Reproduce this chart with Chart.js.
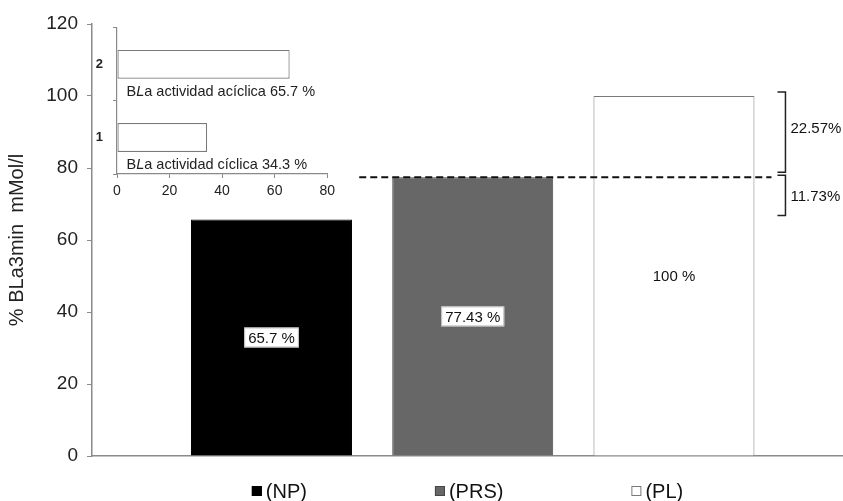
<!DOCTYPE html>
<html>
<head>
<meta charset="utf-8">
<script src="https://cdn.jsdelivr.net/npm/chart.js@4.4.1/dist/chart.umd.min.js"></script>
<style>
  html, body { margin: 0; padding: 0; background: #ffffff; overflow: hidden; }
  #wrap { position: relative; width: 843px; height: 501px; }
  #main { position: absolute; left: 0; top: 0; }
  #inset { position: absolute; left: 90px; top: 10px; }
</style>
</head>
<body>
<div id="wrap">
  <canvas id="main" width="843" height="501"></canvas>
  <canvas id="inset" width="250" height="200"></canvas>
</div>
<script>
// ---------- data ----------
const categories = ['(NP)', '(PRS)', '(PL)'];
const values = [65.7, 77.43, 100];
const xPositions = [1, 2, 3];
const yTickStep = 20;
const yMin = 0;
const yMax = 120;
const yTitle = '% BLa3min  mMol/l';

const insetCategories = ['1', '2'];
const insetValues = [34.3, 65.7];
const insetNames = ['BLa actividad cíclica', 'BLa actividad acíclica'];
const insetXMin = 0;
const insetXMax = 80;
const insetXStep = 20;

// ---------- styles ----------
const FONT = '"Liberation Sans", Arial, Helvetica, sans-serif';
Chart.defaults.font.family = FONT;
Chart.defaults.color = '#222';
const barFill = ['#000000', '#676767', '#ffffff'];
const barEdge = ['#000000', '#474747', '#7a7a7a'];
const axisColor = '#8a8a8a';

// ---------- main chart plugin: labels, dashed reference, brackets, legend ----------
const mainDecor = {
  id: 'mainDecor',
  afterDatasetsDraw(chart) {
    const ctx = chart.ctx;
    const meta = chart.getDatasetMeta(0);
    const ys = chart.scales.y;
    ctx.save();
    // value labels in boxes
    ctx.font = '15px ' + FONT;
    ctx.textAlign = 'center';
    ctx.textBaseline = 'middle';
    meta.data.forEach((bar, i) => {
      const cy = (bar.y + bar.base) / 2;
      const text = values[i] + ' %';
      const w = ctx.measureText(text).width + 8;
      const h = 20;
      ctx.fillStyle = '#ffffff';
      ctx.fillRect(bar.x - w / 2, cy - h / 2, w, h);
      if (i < 2) {
        ctx.lineWidth = 1;
        ctx.strokeStyle = '#bdbdbd';
        ctx.strokeRect(bar.x - w / 2 + 0.5, cy - h / 2 + 0.5, w - 1, h - 1);
      }
      ctx.fillStyle = '#111';
      ctx.fillText(text, bar.x, cy + 1);
    });
    // dashed reference line at PRS level
    const prs = meta.data[1];
    const pl = meta.data[2];
    const yRef = ys.getPixelForValue(values[1]);
    ctx.setLineDash([7, 4]);
    ctx.lineWidth = 2;
    ctx.strokeStyle = '#111';
    ctx.beginPath();
    ctx.moveTo(prs.x - prs.width / 2 - 33, yRef);
    ctx.lineTo(pl.x + pl.width / 2 + 17, yRef);
    ctx.stroke();
    ctx.setLineDash([]);
    // brackets
    const bx = pl.x + pl.width / 2 + 31;
    const drawBracket = (y1, y2) => {
      ctx.beginPath();
      ctx.moveTo(bx - 8, y1);
      ctx.lineTo(bx, y1);
      ctx.lineTo(bx, y2);
      ctx.lineTo(bx - 8, y2);
      ctx.lineWidth = 1.5;
      ctx.strokeStyle = '#222';
      ctx.stroke();
    };
    const yTop = ys.getPixelForValue(values[2]) - 4;
    const yMid = ys.getPixelForValue(values[1]);
    const yLow = ys.getPixelForValue(values[0]) - 4;
    drawBracket(yTop, yMid - 5);
    drawBracket(yMid - 2, yLow);
    ctx.font = '15px ' + FONT;
    ctx.textAlign = 'left';
    ctx.fillStyle = '#111';
    ctx.fillText((values[2] - values[1]).toFixed(2) + '%', bx + 5, (yTop + yMid - 5) / 2 - 3);
    ctx.fillText((values[1] - values[0]).toFixed(2) + '%', bx + 5, (yMid - 2 + yLow) / 2 + 1);
    ctx.restore();
  },
  afterDraw(chart) {
    // legend below the axis
    const ctx = chart.ctx;
    const area = chart.chartArea;
    ctx.save();
    ctx.font = '20px ' + FONT;
    ctx.textBaseline = 'middle';
    ctx.textAlign = 'left';
    const box = 10, gap = 4, spacing = 128;
    const widths = categories.map(c => box + gap + ctx.measureText(c).width);
    const total = widths.reduce((a, b) => a + b, 0) + spacing * (categories.length - 1);
    let x = (area.left + area.right) / 2 - total / 2;
    const cy = area.bottom + 35;
    categories.forEach((c, i) => {
      ctx.fillStyle = barFill[i];
      ctx.fillRect(x, cy - box / 2, box, box);
      ctx.lineWidth = 1;
      ctx.strokeStyle = barEdge[i];
      ctx.strokeRect(x + 0.5, cy - box / 2 + 0.5, box - 1, box - 1);
      ctx.fillStyle = '#111';
      ctx.fillText(c, x + box + gap, cy + 1);
      x += widths[i] + spacing;
    });
    ctx.restore();
  }
};

new Chart(document.getElementById('main'), {
  type: 'bar',
  data: {
    datasets: [{
      data: values.map((v, i) => ({ x: xPositions[i], y: v })),
      backgroundColor: barFill,
      borderColor: barEdge,
      borderWidth: 1,
      borderSkipped: 'start',
      barPercentage: 0.8,
      categoryPercentage: 1
    }]
  },
  options: {
    responsive: false,
    animation: false,
    devicePixelRatio: 1,
    layout: { padding: { top: 24, right: 0, left: 0, bottom: 0 } },
    plugins: { legend: { display: false }, tooltip: { enabled: false } },
    scales: {
      x: {
        type: 'linear',
        offset: false,
        min: 0.108,
        max: 3.840,
        afterBuildTicks(s) { s.ticks = xPositions.map(v => ({ value: v })); },
        ticks: { display: false },
        grid: { display: false },
        border: { display: true, color: axisColor, width: 1.5 },
        afterFit(s) { s.height = 45; }
      },
      y: {
        min: yMin,
        max: yMax,
        ticks: { stepSize: yTickStep, padding: 9, color: '#222', font: { size: 19 } },
        grid: { display: true, drawOnChartArea: false, drawTicks: true, tickLength: 5, color: axisColor },
        border: { display: true, color: axisColor, width: 1.5 },
        title: { display: true, text: yTitle, color: '#222', font: { size: 20 }, padding: { top: 5, bottom: 0 } },
        afterFit(s) { s.width = 92; }
      }
    }
  },
  plugins: [mainDecor]
});

// ---------- inset chart ----------
const insetDecor = {
  id: 'insetDecor',
  afterDatasetsDraw(chart) {
    const ctx = chart.ctx;
    const meta = chart.getDatasetMeta(0);
    ctx.save();
    ctx.textBaseline = 'middle';
    ctx.textAlign = 'left';
    ctx.fillStyle = '#222';
    meta.data.forEach((bar, i) => {
      const name = insetNames[i];
      let x = bar.base + 9;
      const y = bar.y + bar.height / 2 + 13;
      const parts = [
        { t: name.slice(0, 1), f: '14.5px ' + FONT },
        { t: name.slice(1, 2), f: 'italic 14.5px ' + FONT },
        { t: name.slice(2) + ' ' + insetValues[i] + ' %', f: '14.5px ' + FONT }
      ];
      parts.forEach(p => {
        ctx.font = p.f;
        ctx.fillText(p.t, x, y);
        x += ctx.measureText(p.t).width;
      });
    });
    ctx.restore();
  }
};

new Chart(document.getElementById('inset'), {
  type: 'bar',
  data: {
    labels: insetCategories,
    datasets: [{
      data: insetValues,
      backgroundColor: '#ffffff',
      borderColor: '#7a7a7a',
      borderWidth: 1.2,
      borderSkipped: false,
      barPercentage: 0.395,
      categoryPercentage: 1
    }]
  },
  options: {
    indexAxis: 'y',
    responsive: false,
    animation: false,
    devicePixelRatio: 1,
    layout: { padding: { top: 15, right: 9, left: 0, bottom: 0 } },
    plugins: { legend: { display: false }, tooltip: { enabled: false } },
    scales: {
      x: {
        type: 'linear',
        min: insetXMin,
        max: insetXMax,
        ticks: { stepSize: insetXStep, padding: 5, color: '#222', font: { size: 14 } },
        grid: { display: true, drawOnChartArea: false, tickLength: 4, color: axisColor },
        border: { display: true, color: axisColor, width: 1.2 },
        afterFit(s) { s.height = 36; }
      },
      y: {
        reverse: true,
        ticks: { padding: 10, color: '#222', font: { size: 13, weight: 'bold' } },
        grid: { display: true, drawOnChartArea: false, tickLength: 4, color: axisColor },
        border: { display: true, color: axisColor, width: 1.2 },
        afterFit(s) { s.width = 27; }
      }
    }
  },
  plugins: [insetDecor]
});
</script>
</body>
</html>
